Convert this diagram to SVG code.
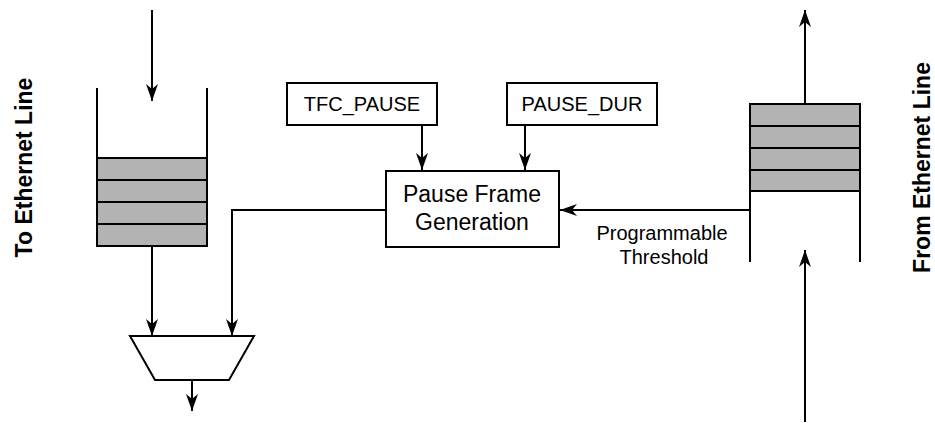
<svg xmlns="http://www.w3.org/2000/svg" width="935" height="423" viewBox="0 0 935 423">
<defs>
<marker id="ah" markerUnits="userSpaceOnUse" markerWidth="20" markerHeight="16" viewBox="-18 -8 20 16" refX="0" refY="0" orient="auto">
<path d="M0,0 L-17,-6 L-12,0 L-17,6 Z" fill="#000"/>
</marker>
</defs>
<style>
.ln{fill:none;stroke:#000;stroke-width:2}
.box{fill:#fff;stroke:#000;stroke-width:2}
.cell{fill:#b3b3b3;stroke:#000;stroke-width:2}
.arr{fill:none;stroke:#000;stroke-width:2;marker-end:url(#ah)}
.t{font-family:"Liberation Sans",Arial,sans-serif;font-size:20px;fill:#000;text-anchor:middle}
.tb{font-family:"Liberation Sans",Arial,sans-serif;font-size:23px;font-weight:bold;fill:#000;text-anchor:middle}
</style>
<rect width="935" height="423" fill="#fff"/>
<g id="tx-fifo">
<path class="ln" d="M97,88 V246 M207,88 V246"/>
<rect class="cell" x="97" y="158" width="110" height="22"/>
<rect class="cell" x="97" y="180" width="110" height="22"/>
<rect class="cell" x="97" y="202" width="110" height="22"/>
<rect class="cell" x="97" y="224" width="110" height="22"/>
</g>
<g id="mux">
<polygon class="box" points="130,336 254,336 229,380 155,380"/>
</g>
<g id="tfc-pause">
<rect class="box" x="287" y="83" width="150" height="42"/>
<text class="t" x="362" y="111">TFC_PAUSE</text>
</g>
<g id="pause-dur">
<rect class="box" x="507" y="83" width="150" height="42"/>
<text class="t" x="582" y="111">PAUSE_DUR</text>
</g>
<g id="pause-frame-gen">
<rect class="box" x="386" y="171" width="173" height="76"/>
<text class="t" x="472" y="202" style="font-size:23px">Pause Frame</text>
<text class="t" x="472" y="230" style="font-size:23px">Generation</text>
</g>
<g id="rx-fifo">
<path class="ln" d="M750,104 V262 M860,104 V262"/>
<rect class="cell" x="750" y="104" width="110" height="22"/>
<rect class="cell" x="750" y="126" width="110" height="22"/>
<rect class="cell" x="750" y="148" width="110" height="22"/>
<rect class="cell" x="750" y="170" width="110" height="21"/>
</g>
<g id="labels">
<text class="tb" transform="translate(32,167.5) rotate(-90)">To Ethernet Line</text>
<text class="tb" transform="translate(930,167.5) rotate(-90)">From Ethernet Line</text>
<text class="t" x="662" y="240">Programmable</text>
<text class="t" x="664" y="264">Threshold</text>
</g>
<g id="connectors">
<path class="arr" d="M152,10 V101"/>
<path class="arr" d="M152,247 V336"/>
<path class="arr" d="M386,210 H232 V336"/>
<path class="arr" d="M192,381 V411"/>
<path class="arr" d="M422,125 V170"/>
<path class="arr" d="M525,125 V170"/>
<path class="arr" d="M750,210 H560"/>
<path class="arr" d="M805,104 V10"/>
<path class="arr" d="M805,422 V250"/>
</g>
</svg>
